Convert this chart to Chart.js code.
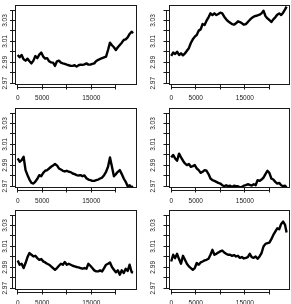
<!DOCTYPE html>
<html><head><meta charset="utf-8">
<script src="https://cdn.jsdelivr.net/npm/chart.js@4/dist/chart.umd.min.js"></script>
<style>
html,body{margin:0;padding:0;background:#fff;width:291px;height:304px;overflow:hidden;position:relative}
canvas{position:absolute;display:block}
</style></head><body>
<script>
// ---- data ----
const xs = [0,400,800,1200,1600,2000,2400,2800,3200,3600,4000,4400,4800,5200,5600,6000,6400,6800,7200,7600,8000,8400,8800,9200,9600,10000,10400,10800,11200,11600,12000,12400,12800,13200,13600,14000,14400,14800,15200,15600,16000,16400,16800,17200,17600,18000,18400,18800,19200,19600,20000,20400,20800,21200,21600,22000,22400,22800,23200,23500];

const s1 = [2.9970,2.9948,2.9970,2.9930,2.9916,2.9935,2.9910,2.9890,2.9916,2.9960,2.9940,2.9974,2.9993,2.9955,2.9935,2.9940,2.9910,2.9900,2.9897,2.9866,2.9910,2.9916,2.9897,2.9890,2.9885,2.9878,2.9872,2.9866,2.9866,2.9872,2.9859,2.9872,2.9878,2.9875,2.9881,2.9890,2.9878,2.9878,2.9885,2.9890,2.9913,2.9923,2.9932,2.9940,2.9948,2.9955,3.0018,3.0088,3.0063,3.0044,3.0018,3.0044,3.0066,3.0088,3.0114,3.0120,3.0139,3.0171,3.0193,3.0178];

const s2 = [2.9961,2.9993,2.9980,3.0002,2.9970,2.9986,2.9967,2.9985,3.0010,3.0035,3.0085,3.0120,3.0145,3.0161,3.0203,3.0215,3.0266,3.0257,3.0298,3.0330,3.0368,3.0352,3.0368,3.0352,3.0362,3.0375,3.0368,3.0336,3.0311,3.0292,3.0279,3.0266,3.0260,3.0273,3.0292,3.0285,3.0273,3.0260,3.0266,3.0285,3.0305,3.0324,3.0336,3.0343,3.0349,3.0355,3.0368,3.0394,3.0343,3.0320,3.0305,3.0285,3.0311,3.0330,3.0355,3.0368,3.0352,3.0375,3.0406,3.0432];

const s3 = [2.9966,2.9934,2.9950,2.9982,2.9854,2.9806,2.9764,2.9732,2.9726,2.9745,2.9771,2.9806,2.9796,2.9828,2.9848,2.9854,2.9870,2.9886,2.9899,2.9912,2.9899,2.9870,2.9860,2.9848,2.9841,2.9848,2.9838,2.9835,2.9822,2.9816,2.9806,2.9803,2.9806,2.9796,2.9803,2.9777,2.9764,2.9758,2.9751,2.9751,2.9758,2.9764,2.9774,2.9783,2.9806,2.9838,2.9886,2.9976,2.9886,2.9796,2.9816,2.9838,2.9854,2.9816,2.9774,2.9742,2.9700,2.9710,2.9687,2.9700];

const s4 = [2.9976,2.9999,2.9966,2.9944,3.0012,2.9976,2.9944,2.9918,2.9902,2.9912,2.9886,2.9893,2.9902,2.9870,2.9854,2.9828,2.9838,2.9854,2.9848,2.9816,2.9774,2.9758,2.9751,2.9742,2.9732,2.9726,2.9710,2.9700,2.9710,2.9700,2.9706,2.9693,2.9706,2.9700,2.9700,2.9687,2.9693,2.9706,2.9710,2.9719,2.9713,2.9706,2.9719,2.9710,2.9758,2.9751,2.9764,2.9783,2.9816,2.9848,2.9828,2.9774,2.9764,2.9742,2.9726,2.9732,2.9710,2.9700,2.9706,2.9687];

const s5 = [2.9966,2.9925,2.9934,2.9893,2.9941,2.9998,3.0036,3.0020,3.0004,3.0010,2.9988,2.9972,2.9979,2.9957,2.9947,2.9934,2.9925,2.9909,2.9893,2.9877,2.9893,2.9915,2.9934,2.9925,2.9950,2.9925,2.9934,2.9925,2.9915,2.9909,2.9903,2.9899,2.9893,2.9887,2.9893,2.9887,2.9934,2.9915,2.9893,2.9871,2.9861,2.9861,2.9871,2.9861,2.9893,2.9925,2.9934,2.9947,2.9903,2.9877,2.9852,2.9871,2.9830,2.9871,2.9846,2.9887,2.9865,2.9925,2.9855,2.9850];

const s6 = [2.9956,3.0020,2.9988,3.0029,2.9979,2.9934,3.0010,2.9972,2.9934,2.9909,2.9893,2.9877,2.9893,2.9941,2.9925,2.9947,2.9956,2.9966,2.9972,2.9982,3.0020,3.0067,3.0020,3.0029,3.0042,3.0052,3.0061,3.0042,3.0029,3.0020,3.0020,3.0010,3.0017,3.0004,3.0010,2.9991,2.9998,2.9985,2.9991,2.9998,3.0029,2.9998,2.9991,3.0004,2.9982,3.0004,3.0036,3.0099,3.0124,3.0131,3.0137,3.0169,3.0210,3.0242,3.0273,3.0264,3.0315,3.0337,3.0305,3.0232];

const xTickValues = [0,5000,10000,15000,20000];
const xTickLabels = ['0','5000','15000'];
const yTickValues = [2.97,2.98,2.99,3.00,3.01,3.02,3.03,3.04];
const yTickLabels = ['2.97','2.99','3.01','3.03'];

// ---- layout (page pixels) ----
const cols = [{left:15, right:136.5, yw:15, lpad:-1.3}, {left:168.5, right:290, yw:23.5, lpad:3.7}];
const rows = [{top:5, bottom:84.5}, {top:107.5, bottom:187}, {top:210, bottom:289.5}];
const series = [s1, s2, s3, s4, s5, s6];

const FONT = {family:"'Liberation Sans', Arial, sans-serif", size:6.5};
const INK = '#1a1a1a';

const boxPlugin = {
  id:'rbox',
  afterDraw(chart){
    const {ctx, chartArea:a, scales:{x, y}} = chart;
    ctx.save();
    ctx.strokeStyle = INK; ctx.lineWidth = 1;
    ctx.strokeRect(Math.round(a.left)+0.5, Math.round(a.top)+0.5, Math.round(a.right)-Math.round(a.left)-1, Math.round(a.bottom)-Math.round(a.top)-1);
    const tx = x.ticks.map(t => x.getPixelForValue(t.value));
    const ty = y.ticks.map(t => y.getPixelForValue(t.value));
    ctx.beginPath();
    const by = Math.round(a.bottom) + 2.5;
    ctx.moveTo(tx[0], by); ctx.lineTo(tx[tx.length-1], by);
    const bx = Math.round(a.left) - 2.5;
    ctx.moveTo(bx, ty[0]); ctx.lineTo(bx, ty[ty.length-1]);
    ctx.stroke();
    ctx.restore();
  }
};

series.forEach((data, k) => {
  const col = cols[k % 2], row = rows[Math.floor(k / 2)];
  const L = col.left - col.yw, T = row.top - 5;
  const W = Math.ceil(col.right - L + 1), H = Math.ceil(row.bottom - T + 20);
  const c = document.createElement('canvas');
  c.width = W; c.height = H;
  c.style.left = L + 'px'; c.style.top = T + 'px';
  c.style.width = W + 'px'; c.style.height = H + 'px';
  document.body.appendChild(c);
  const padRight = W - (col.right - L);
  const padBottom = H - (row.bottom - T) - 17;
  new Chart(c, {
    type:'line',
    data:{datasets:[{
      data: xs.map((x, i) => ({x, y:data[i]})),
      borderColor:'#000', borderWidth:2.4, borderJoinStyle:'round', pointRadius:0, tension:0, fill:false
    }]},
    options:{
      responsive:false, animation:false, events:[], devicePixelRatio:1,
      layout:{padding:{left:0, top:5, right:padRight, bottom:padBottom}},
      plugins:{legend:{display:false}, tooltip:{enabled:false}},
      scales:{
        x:{type:'linear', min:-550, max:24200,
           afterBuildTicks: s => { s.ticks = xTickValues.map(v => ({value:v})); },
           afterFit: s => { s.height = 17; s.paddingLeft = 0; s.paddingRight = 0; },
           ticks:{autoSkip:false, minRotation:0, maxRotation:0, padding:4.5, color:INK, font:FONT,
                  callback: v => xTickLabels.includes(String(v)) ? String(v) : ''},
           grid:{drawOnChartArea:false, drawTicks:true, tickLength:5, color:INK, lineWidth:1},
           border:{display:false}},
        y:{type:'linear', min:2.9688, max:3.0448,
           afterBuildTicks: s => { s.ticks = yTickValues.map(v => ({value:v})); },
           afterFit: s => { s.width = col.yw; s.paddingTop = 0; s.paddingBottom = 0; },
           ticks:{autoSkip:false, minRotation:90, maxRotation:90, crossAlign:'center', padding:col.lpad, color:INK, font:FONT,
                  callback: v => { const t = Number(v).toFixed(2); return yTickLabels.includes(t) ? t : ''; }},
           grid:{drawOnChartArea:false, drawTicks:true, tickLength:5, color:INK, lineWidth:1},
           border:{display:false}}
      }
    },
    plugins:[boxPlugin]
  });
});
</script>
</body></html>
